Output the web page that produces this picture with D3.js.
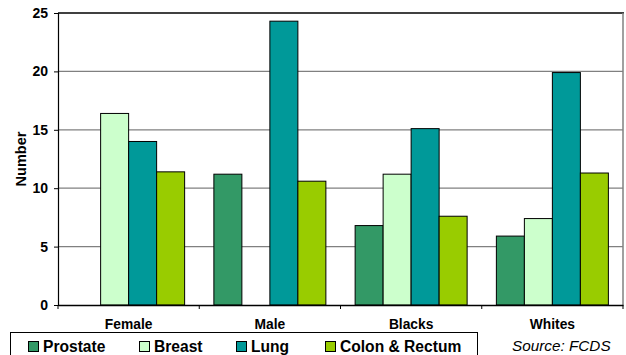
<!DOCTYPE html>
<html>
<head>
<meta charset="utf-8">
<script src="https://cdn.jsdelivr.net/npm/d3@7"></script>
<style>
  html, body { margin: 0; padding: 0; background: #fff; }
  svg { display: block; font-family: "Liberation Sans", Arial, sans-serif; }
</style>
</head>
<body>
<svg id="chart" width="626" height="355"></svg>
<script>
// Cancer counts by group
const categories = ["Female", "Male", "Blacks", "Whites"];
const seriesNames = ["Prostate", "Breast", "Lung", "Colon & Rectum"];
const prostate = [null, 11.2, 6.8, 5.9];
const breast   = [16.4, null, 11.2, 7.4];
const lung     = [14.0, 24.3, 15.1, 19.9];
const colon    = [11.4, 10.6, 7.6, 11.3];
const yTicks = [0, 5, 10, 15, 20, 25];
const seriesColors = ["#339966", "#CCFFCC", "#009999", "#99CC00"];

const seriesValues = [prostate, breast, lung, colon];

const svg = d3.select("#chart");
const plot = { left: 58, right: 623, top: 13, bottom: 305 };

const x = d3.scaleBand().domain(categories).range([plot.left, plot.right]).paddingInner(0).paddingOuter(0);
const inner = d3.scaleBand().domain(seriesNames).range([0, x.bandwidth()]).paddingOuter(0.5 * (x.bandwidth() - 112) / 28).paddingInner(0);
const y = d3.scaleLinear().domain([0, 25]).range([plot.bottom, plot.top]);

// Gridlines
svg.append("g")
  .selectAll("line")
  .data(yTicks.filter(t => t > 0 && t < 25))
  .join("line")
  .attr("x1", plot.left).attr("x2", plot.right)
  .attr("y1", d => y(d)).attr("y2", d => y(d))
  .attr("stroke", "#808080").attr("stroke-width", 1.2);

// Plot area top and right border
svg.append("line")
  .attr("x1", plot.left).attr("x2", plot.right + 1)
  .attr("y1", y(25)).attr("y2", y(25))
  .attr("stroke", "#404040").attr("stroke-width", 2);
svg.append("line")
  .attr("x1", plot.right).attr("x2", plot.right)
  .attr("y1", y(25)).attr("y2", plot.bottom)
  .attr("stroke", "#808080").attr("stroke-width", 1.5);

// Bars
const bars = [];
categories.forEach((c, i) => {
  seriesNames.forEach((s, j) => {
    const v = seriesValues[j][i];
    if (v != null) bars.push({ c, s, v, color: seriesColors[j] });
  });
});
svg.append("g")
  .selectAll("rect")
  .data(bars)
  .join("rect")
  .attr("x", d => x(d.c) + inner(d.s))
  .attr("width", inner.bandwidth())
  .attr("y", d => y(d.v))
  .attr("height", d => y(0) - y(d.v))
  .attr("fill", d => d.color)
  .attr("stroke", "#000")
  .attr("stroke-width", 1);

// Y axis
const yAxis = svg.append("g")
  .attr("transform", `translate(${plot.left},0)`)
  .call(d3.axisLeft(y).tickValues(yTicks).tickSize(4).tickPadding(6));
yAxis.select(".domain").attr("stroke", "#000").attr("stroke-width", 1.2);
yAxis.selectAll(".tick line").attr("stroke", "#000");
yAxis.selectAll("text")
  .attr("font-size", 14).attr("font-weight", "bold").attr("fill", "#000")
  .attr("font-family", "Liberation Sans, Arial, sans-serif");

// X axis
const xAxis = svg.append("g")
  .attr("transform", `translate(0,${plot.bottom})`)
  .call(d3.axisBottom(x).tickSize(0).tickPadding(14));
xAxis.select(".domain").attr("stroke", "#000").attr("stroke-width", 1.5);
xAxis.selectAll("text")
  .attr("font-size", 13.8).attr("font-weight", "bold").attr("fill", "#000")
  .attr("font-family", "Liberation Sans, Arial, sans-serif");
// Category separators
const sepPositions = categories.map(c => x(c)).concat([plot.right]);
svg.append("g")
  .selectAll("line")
  .data(sepPositions)
  .join("line")
  .attr("x1", d => d).attr("x2", d => d)
  .attr("y1", plot.bottom).attr("y2", plot.bottom + 4)
  .attr("stroke", "#000");

// Y axis title
svg.append("text")
  .attr("transform", `translate(26,${(plot.top + plot.bottom) / 2}) rotate(-90)`)
  .attr("text-anchor", "middle")
  .attr("font-size", 14.5).attr("font-weight", "bold")
  .text("Number");

// Legend
svg.append("rect")
  .attr("x", 10.5).attr("y", 332.5)
  .attr("width", 467).attr("height", 40)
  .attr("fill", "#fff").attr("stroke", "#000").attr("stroke-width", 1);
const legendX = [28, 139, 236, 325];
const legend = svg.append("g")
  .selectAll("g")
  .data(seriesNames)
  .join("g")
  .attr("transform", (d, i) => `translate(${legendX[i]},341)`);
legend.append("rect")
  .attr("x", 0.5).attr("y", 0.5).attr("width", 10).attr("height", 10)
  .attr("fill", (d, i) => seriesColors[i]).attr("stroke", "#000");
legend.append("text")
  .attr("x", 15).attr("y", 10.8)
  .attr("font-size", 15.6).attr("font-weight", "bold")
  .text(d => d);

// Source note
svg.append("text")
  .attr("x", 512).attr("y", 351)
  .attr("font-size", 15.3).attr("font-style", "italic")
  .text("Source: FCDS");
</script>
</body>
</html>
